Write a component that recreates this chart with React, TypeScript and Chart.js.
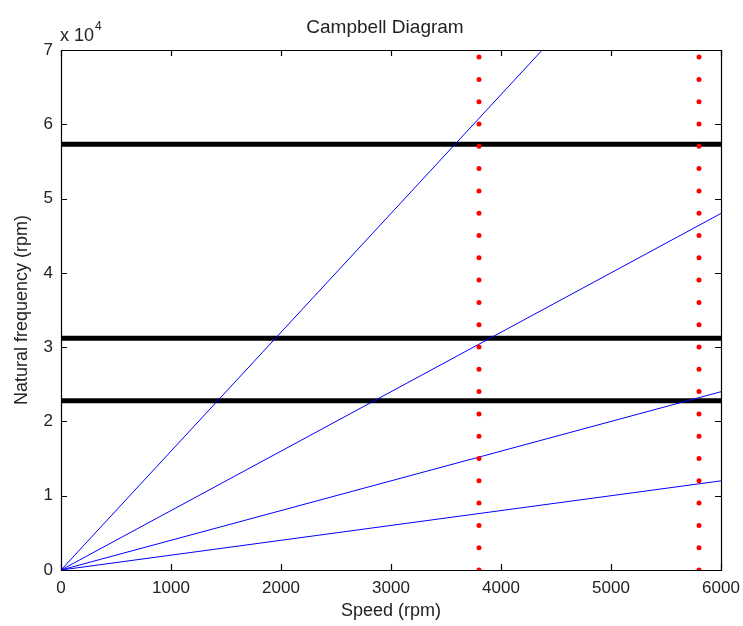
import React, { useEffect, useRef } from "react";
import { Chart, registerables } from "chart.js";

Chart.register(...registerables);

const speedRange = [0, 6000];
const engineOrders = [2, 4, 8, 16];
const naturalFrequencies = [57300, 31200, 22800];
const operatingSpeeds = [3800, 5800];
const xTicks = [0, 1000, 2000, 3000, 4000, 5000, 6000];
const yTicks = [0, 10000, 20000, 30000, 40000, 50000, 60000, 70000];

const FONT = "'Liberation Sans', Arial, sans-serif";

const framePlugin = {
  id: "frame",
  afterDraw(chart: any) {
    const { ctx, chartArea } = chart;
    const { left, right, top, bottom } = chartArea;
    const xs = chart.scales.x;
    const ys = chart.scales.y;
    ctx.save();
    ctx.strokeStyle = "#000";
    ctx.lineWidth = 1.2;
    ctx.beginPath();
    ctx.rect(Math.round(left) + 0.5, Math.round(top) + 0.5, Math.round(right - left), Math.round(bottom - top));
    ctx.stroke();
    const tl = 6;
    ctx.beginPath();
    xTicks.forEach((v) => {
      const px = Math.round(xs.getPixelForValue(v)) + 0.5;
      ctx.moveTo(px, bottom);
      ctx.lineTo(px, bottom - tl);
      ctx.moveTo(px, top);
      ctx.lineTo(px, top + tl);
    });
    yTicks.forEach((v) => {
      const py = Math.round(ys.getPixelForValue(v)) + 0.5;
      ctx.moveTo(left, py);
      ctx.lineTo(left + tl, py);
      ctx.moveTo(right, py);
      ctx.lineTo(right - tl, py);
    });
    ctx.stroke();

    ctx.fillStyle = "#222";
    ctx.textBaseline = "alphabetic";
    ctx.textAlign = "left";
    ctx.font = `18px ${FONT}`;
    ctx.fillText("x 10", 60, 41);
    const w = ctx.measureText("x 10").width;
    ctx.font = `12px ${FONT}`;
    ctx.fillText("4", 60 + w + 1, 30);

    ctx.textAlign = "center";
    ctx.textBaseline = "middle";
    ctx.font = `19px ${FONT}`;
    ctx.fillText("Campbell Diagram", 385, 28);
    ctx.font = `18px ${FONT}`;
    ctx.fillText("Speed (rpm)", (left + right) / 2, 611);
    ctx.translate(22, (top + bottom) / 2);
    ctx.rotate(-Math.PI / 2);
    ctx.fillText("Natural frequency (rpm)", 0, 0);
    ctx.restore();
  },
};

export default function App() {
  const ref = useRef<HTMLCanvasElement>(null);
  useEffect(() => {
    document.body.style.margin = "0";
    const datasets: any[] = [];
    operatingSpeeds.forEach((s) => {
      datasets.push({
        data: [
          { x: s, y: 0 },
          { x: s, y: 70000 },
        ],
        borderColor: "#ff0000",
        borderWidth: 5,
        borderDash: [0, 22.3],
        borderCapStyle: "round",
        pointRadius: 0,
        order: 0,
      });
    });
    engineOrders.forEach((k) => {
      datasets.push({
        data: [
          { x: speedRange[0], y: k * speedRange[0] },
          { x: speedRange[1], y: k * speedRange[1] },
        ],
        borderColor: "#0000ff",
        borderWidth: 1,
        pointRadius: 0,
        order: 1,
      });
    });
    naturalFrequencies.forEach((f) => {
      datasets.push({
        data: [
          { x: speedRange[0], y: f },
          { x: speedRange[1], y: f },
        ],
        borderColor: "#000000",
        borderWidth: 5,
        pointRadius: 0,
        order: 2,
      });
    });
    const chart = new Chart(ref.current!, {
      type: "line",
      data: { datasets },
      options: {
        animation: false,
        responsive: false,
        maintainAspectRatio: false,
        layout: { padding: { left: 0, top: 50, right: 22, bottom: 0 } },
        plugins: { legend: { display: false }, tooltip: { enabled: false }, title: { display: false } },
        scales: {
          x: {
            type: "linear",
            min: 0,
            max: 6000,
            border: { display: false },
            grid: { display: false, drawTicks: false },
            afterBuildTicks: (s: any) => {
              s.ticks = xTicks.map((v) => ({ value: v }));
            },
            afterFit: (s: any) => {
              s.height = 56;
              s.paddingLeft = 0;
              s.paddingRight = 0;
            },
            ticks: {
              padding: 8,
              color: "#222",
              font: { family: FONT, size: 17 },
              maxRotation: 0,
              callback: (v: any) => String(v),
            },
          },
          y: {
            type: "linear",
            min: 0,
            max: 70000,
            border: { display: false },
            grid: { display: false, drawTicks: false },
            afterBuildTicks: (s: any) => {
              s.ticks = yTicks.map((v) => ({ value: v }));
            },
            afterFit: (s: any) => {
              s.width = 61;
              s.paddingTop = 0;
              s.paddingBottom = 0;
            },
            ticks: {
              padding: 8,
              color: "#222",
              font: { family: FONT, size: 17 },
              callback: (v: any) => String(v / 10000),
            },
          },
        },
      },
      plugins: [framePlugin],
    });
    return () => chart.destroy();
  }, []);
  return <canvas ref={ref} width={743} height={626} style={{ display: "block" }} />;
}
